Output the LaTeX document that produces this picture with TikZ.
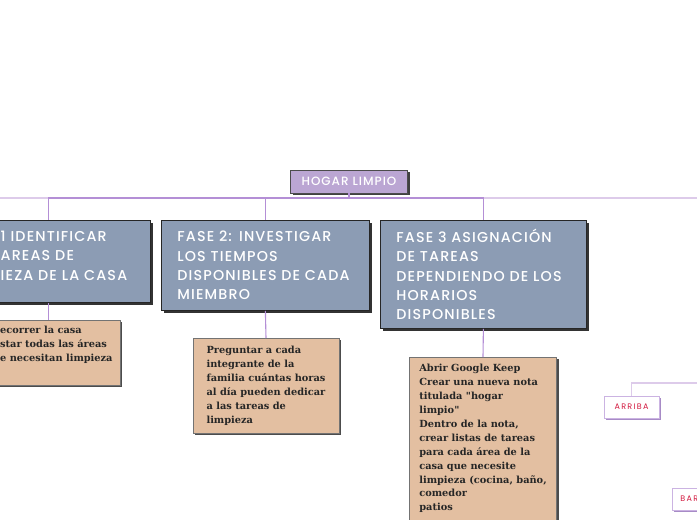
\documentclass[tikz,border=0pt]{standalone}
\usepackage{fontspec}
\usetikzlibrary{shadows}
\newfontfamily\hdrfont{Poppins}[UprightFont=* Medium, LetterSpace=8]
\newfontfamily\slabfont{DejaVu Serif}
\newfontfamily\tagfont{Poppins}[LetterSpace=16]
\definecolor{hdrfill}{HTML}{8C9CB4}
\definecolor{tanfill}{HTML}{E3BFA1}
\definecolor{titlefill}{HTML}{BBA6D3}
\definecolor{conn}{HTML}{B48FD6}
\definecolor{connlight}{HTML}{DDCBEA}
\definecolor{tagborder}{HTML}{CBB3E2}
\definecolor{tagshadow}{HTML}{A78BC6}
\definecolor{tagtext}{HTML}{D3193F}
\tikzset{
  hdr/.style={draw=black!85, line width=0.8pt, fill=hdrfill, text=white,
    font=\hdrfont\fontsize{14.3}{19.3}\selectfont, align=left, inner xsep=16pt,
    drop shadow={shadow xshift=2.5pt, shadow yshift=-2.5pt, opacity=1, fill=black!80}},
  hdrtext/.style={text=white, font=\hdrfont\fontsize{14.3}{19.3}\selectfont, align=left, inner sep=0pt},
  tan/.style={draw=black!55, line width=0.8pt, fill=tanfill, text=black!85,
    font=\slabfont\bfseries\fontsize{9.8}{13.9}\selectfont, align=left, inner xsep=10pt,
    drop shadow={shadow xshift=2pt, shadow yshift=-2pt, opacity=1, fill=black!70}},
  tantext/.style={text=black!85, font=\slabfont\bfseries\fontsize{9.8}{13.9}\selectfont, align=left, inner sep=0pt},
  titlebox/.style={draw=black!70, line width=0.8pt, fill=titlefill, text=white,
    font=\hdrfont\fontsize{12}{14}\selectfont, minimum width=117pt, minimum height=23pt,
    drop shadow={shadow xshift=2pt, shadow yshift=-2pt, opacity=1, fill=black!75}},
  tagbox/.style={draw=tagborder, line width=0.8pt, fill=white, text=tagtext,
    font=\tagfont\fontsize{8}{9}\selectfont, minimum height=22pt,
    drop shadow={shadow xshift=2pt, shadow yshift=-2pt, opacity=1, fill=tagshadow}},
  conn/.style={draw=conn, line width=1.1pt},
  connl/.style={draw=connlight, line width=1.1pt},
}
\begin{document}
\begin{tikzpicture}[x=1pt, y=-1pt]
\useasboundingbox (0,0) rectangle (697,520);
\clip (0,0) rectangle (697,520);

% title
\node[titlebox] (title) at (349,181.5) {HOGAR LIMPIO};

% header boxes
\node[hdr, anchor=north west, minimum width=204pt, minimum height=82pt] (b1) at (-54,220) {};
\node[hdrtext, anchor=north west] (b1t) at (0.5,231) {1 IDENTIFICAR\\AREAS DE\\IEZA DE LA CASA};
\node[hdr, anchor=north west, minimum width=208pt, minimum height=90pt, text width=176pt] (b2) at (161,220)
  {FASE 2: INVESTIGAR\\LOS TIEMPOS\\DISPONIBLES DE CADA\\MIEMBRO};
\node[hdr, anchor=north west, minimum width=206pt, minimum height=108pt, text width=174pt] (b3) at (380,220)
  {FASE 3 ASIGNACIÓN\\DE TAREAS\\DEPENDIENDO DE LOS\\HORARIOS\\DISPONIBLES};

% tan boxes
\node[tan, anchor=north west, minimum width=144pt, minimum height=65pt] (c1) at (-24,320) {};
\node[tantext, anchor=north west] (c1t) at (0,326) {ecorrer la casa\\star todas las áreas\\e necesitan limpieza};
\node[tan, anchor=north, minimum width=146pt, minimum height=95pt] (c2) at (266,338)
  {Preguntar a cada\\integrante de la\\familia cuántas horas\\al día pueden dedicar\\a las tareas de\\limpieza};
\node[tan, anchor=north, minimum width=146pt, inner ysep=7pt] (c3) at (483,357)
  {Abrir Google Keep\\Crear una nueva nota\\titulada "hogar\\limpio"\\Dentro de la nota,\\crear listas de tareas\\para cada área de la\\casa que necesite\\limpieza (cocina, baño,\\comedor\\patios\\\strut};

% tags
\node[tagbox, minimum width=55pt] (arriba) at (631.5,407) {ARRIBA};
\node[tagbox, anchor=west, text width=50pt, align=left, inner xsep=8pt] (bar) at (672,499) {BAR};

% connectors
\coordinate (hub) at (349,198);
\coordinate (leftend) at (0,198);
\coordinate (rightend) at (697,198);
\coordinate (arrend) at (697,383);
\draw[connl] (leftend) -- (b1.north |- hub);
\draw[connl] (b3.north |- hub) -- (rightend);
\draw[conn] (title.south) -- (hub);
\draw[conn] (hub) -| (b1.north);
\draw[conn] (hub) -| (b2.north);
\draw[conn] (hub) -| (b3.north);
\draw[conn] (b1.south) -- (c1.north);
\draw[conn] (b2.south) -- (c2.north);
\draw[conn] (b3.south) -- (c3.north);
\draw[connl] (arriba.north) |- (arrend);
\end{tikzpicture}
\end{document}
